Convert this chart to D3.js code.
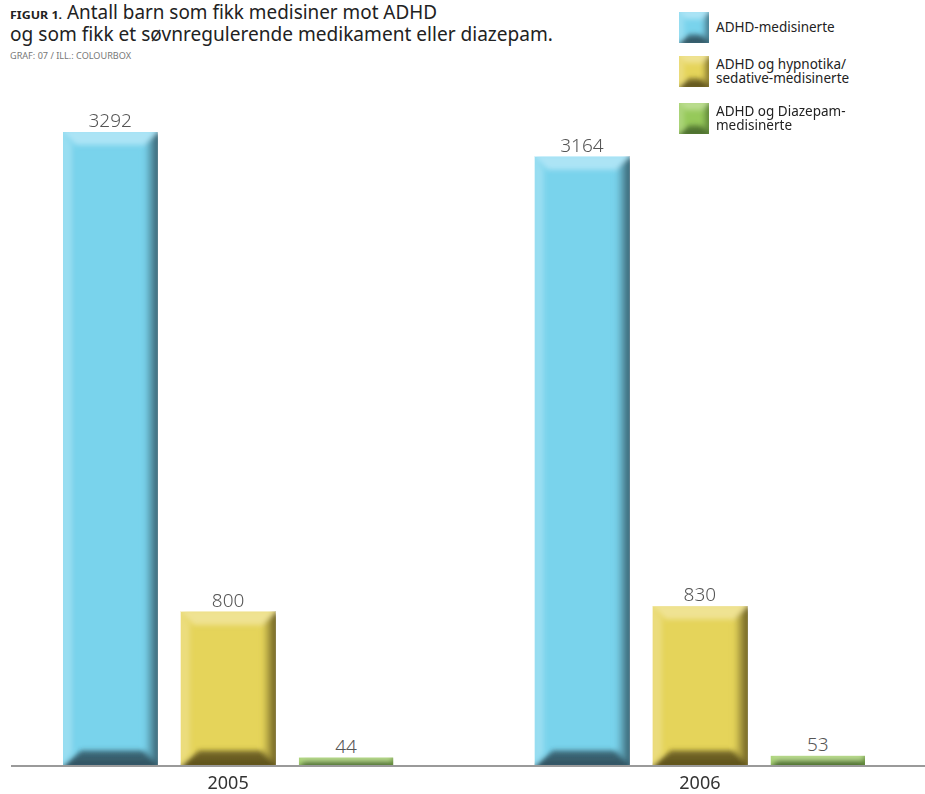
<!DOCTYPE html>
<html>
<head>
<meta charset="utf-8">
<script src="https://cdn.jsdelivr.net/npm/d3@7"></script>
<style>
  html, body { margin: 0; padding: 0; background: #fff; }
  svg { display: block; }
  text { font-family: "Noto Sans", "Open Sans", sans-serif; }
</style>
</head>
<body>
<script>
// ---- data ----
const years = ["2005", "2006"];
const seriesNames = ["ADHD-medisinerte", "ADHD og hypnotika/sedative-medisinerte", "ADHD og Diazepam-medisinerte"];
const adhdValues = [3292, 3164];
const hypnotikaValues = [800, 830];
const diazepamValues = [44, 53];
const legendLines = [["ADHD-medisinerte"], ["ADHD og hypnotika/", "sedative-medisinerte"], ["ADHD og Diazepam-", "medisinerte"]];
const seriesColors = [
  { main: "#79d3ec", light: "#b9e9f7", dark: "#2c4b58" },
  { main: "#e5d45a", light: "#f1e6a0", dark: "#554919" },
  { main: "#96c95a", light: "#c4e19d", dark: "#45662a" }
];

const W = 925, H = 794;
const svg = d3.select("body").append("svg").attr("width", W).attr("height", H);
const defs = svg.append("defs");
defs.append("filter").attr("id", "soft").attr("x", "-10%").attr("y", "-10%").attr("width", "120%").attr("height", "120%")
  .append("feGaussianBlur").attr("stdDeviation", 2.4);
seriesColors.forEach((c, i) => {
  const g = defs.append("linearGradient").attr("id", "rg" + i).attr("x1", 0).attr("x2", 1).attr("y1", 0).attr("y2", 0);
  g.append("stop").attr("offset", 0).attr("stop-color", c.main);
  g.append("stop").attr("offset", 1).attr("stop-color", c.dark);
  const gb = defs.append("linearGradient").attr("id", "bg" + i).attr("x1", 0).attr("x2", 0).attr("y1", 0).attr("y2", 1);
  gb.append("stop").attr("offset", 0).attr("stop-color", c.dark).attr("stop-opacity", 0.75);
  gb.append("stop").attr("offset", 1).attr("stop-color", c.dark).attr("stop-opacity", 1);
});

const data = years.map((y, i) => ({ year: y, values: [adhdValues[i], hypnotikaValues[i], diazepamValues[i]] }));

const baseY = 766;
const y = d3.scaleLinear().domain([0, 3400]).range([baseY, baseY - 3400 * (634 / 3292)]);
const x0 = d3.scaleBand().domain(years).range([63, 865]).paddingInner(0.3).paddingOuter(0);
const x1 = d3.scaleBand().domain(d3.range(3)).range([0, x0.bandwidth()]).paddingInner(0.2).paddingOuter(0);

let clipId = 0;
function bevelRect(g, x, yTop, w, h, ci, bMax) {
  const c = seriesColors[ci];
  const b = Math.min(bMax, h / 2);
  const id = "clip" + (clipId++);
  defs.append("clipPath").attr("id", id).append("rect").attr("x", x).attr("y", yTop).attr("width", w).attr("height", h);
  const grp = g.append("g").attr("clip-path", `url(#${id})`);
  grp.append("rect").attr("x", x).attr("y", yTop).attr("width", w).attr("height", h).attr("fill", c.main);
  const inner = grp.append("g").attr("filter", "url(#soft)");
  const yb = yTop + h;
  // left
  inner.append("polygon").attr("points", [[x - 3, yTop - 3], [x + b * 0.7, yTop + b], [x + b * 0.7, yb - b], [x - 3, yb + 3]].join(" "))
    .attr("fill", c.light).attr("opacity", 0.5);
  // top
  inner.append("polygon").attr("points", [[x - 3, yTop - 3], [x + w + 3, yTop - 3], [x + w - b, yTop + b], [x + b, yTop + b]].join(" "))
    .attr("fill", c.light).attr("opacity", 0.8);
  // right
  inner.append("polygon").attr("points", [[x + w + 3, yTop - 3], [x + w + 3, yb + 3], [x + w - b, yb - b], [x + w - b, yTop + b]].join(" "))
    .attr("fill", `url(#rg${ci})`);
  // bottom
  inner.append("polygon").attr("points", [[x - 3, yb + 3], [x + w + 3, yb + 3], [x + w - b, yb - b * 1.2], [x + b * 1.4, yb - b * 1.2]].join(" "))
    .attr("fill", `url(#bg${ci})`);
}

// ---- bars ----
const gBars = svg.append("g");
data.forEach(d => {
  d.values.forEach((v, i) => {
    const bx = x0(d.year) + x1(i);
    const by = y(v);
    const h = baseY - by;
    bevelRect(gBars, bx, by, x1.bandwidth(), h, i, 13);
    gBars.append("text").attr("x", bx + x1.bandwidth() / 2).attr("y", by - 5)
      .attr("text-anchor", "middle").attr("font-size", 19).attr("fill", "#555").attr("font-weight", 300)
      .text(v);
  });
});

// ---- axis ----
const xAxis = d3.axisBottom(x0).tickSize(0).tickPadding(0);
const axG = svg.append("g").attr("transform", `translate(0,${baseY})`).call(xAxis);
axG.select(".domain").remove();
axG.append("line").attr("x1", 11).attr("x2", 925).attr("y1", 0).attr("y2", 0).attr("stroke", "#9a9a9a").attr("stroke-width", 2);
axG.selectAll(".tick text").attr("y", 23).attr("dy", 0).attr("font-size", 18).attr("fill", "#333")
  .attr("font-family", "Noto Sans, sans-serif");

// ---- title ----
const tg = svg.append("g");
tg.append("text").attr("x", 10).attr("y", 19).attr("font-size", 10).attr("font-weight", 700).attr("fill", "#222")
  .attr("textLength", 52).attr("lengthAdjust", "spacingAndGlyphs").text("FIGUR 1.");
tg.append("text").attr("x", 67).attr("y", 19).attr("font-size", 19).attr("fill", "#222")
  .attr("textLength", 370).attr("lengthAdjust", "spacingAndGlyphs").text("Antall barn som fikk medisiner mot ADHD");
tg.append("text").attr("x", 10).attr("y", 41).attr("font-size", 19).attr("fill", "#222")
  .attr("textLength", 543).attr("lengthAdjust", "spacingAndGlyphs").text("og som fikk et søvnregulerende medikament eller diazepam.");
tg.append("text").attr("x", 10).attr("y", 59).attr("font-size", 8.5).attr("fill", "#777")
  .attr("textLength", 121).attr("lengthAdjust", "spacingAndGlyphs").text("GRAF: 07 / ILL.: COLOURBOX");

// ---- legend ----
const legendY = [12, 56, 103];
const lg = svg.append("g");
legendLines.forEach((lines, i) => {
  bevelRect(lg, 679, legendY[i], 30, 31, i, 7);
  const baseline = i === 0 ? 32 : legendY[i] + 12.5;
  lines.forEach((t, j) => {
    lg.append("text").attr("x", 716).attr("y", baseline + j * 14.5).attr("font-size", 13.5).attr("fill", "#222")
      .text(t);
  });
});
</script>
</body>
</html>
